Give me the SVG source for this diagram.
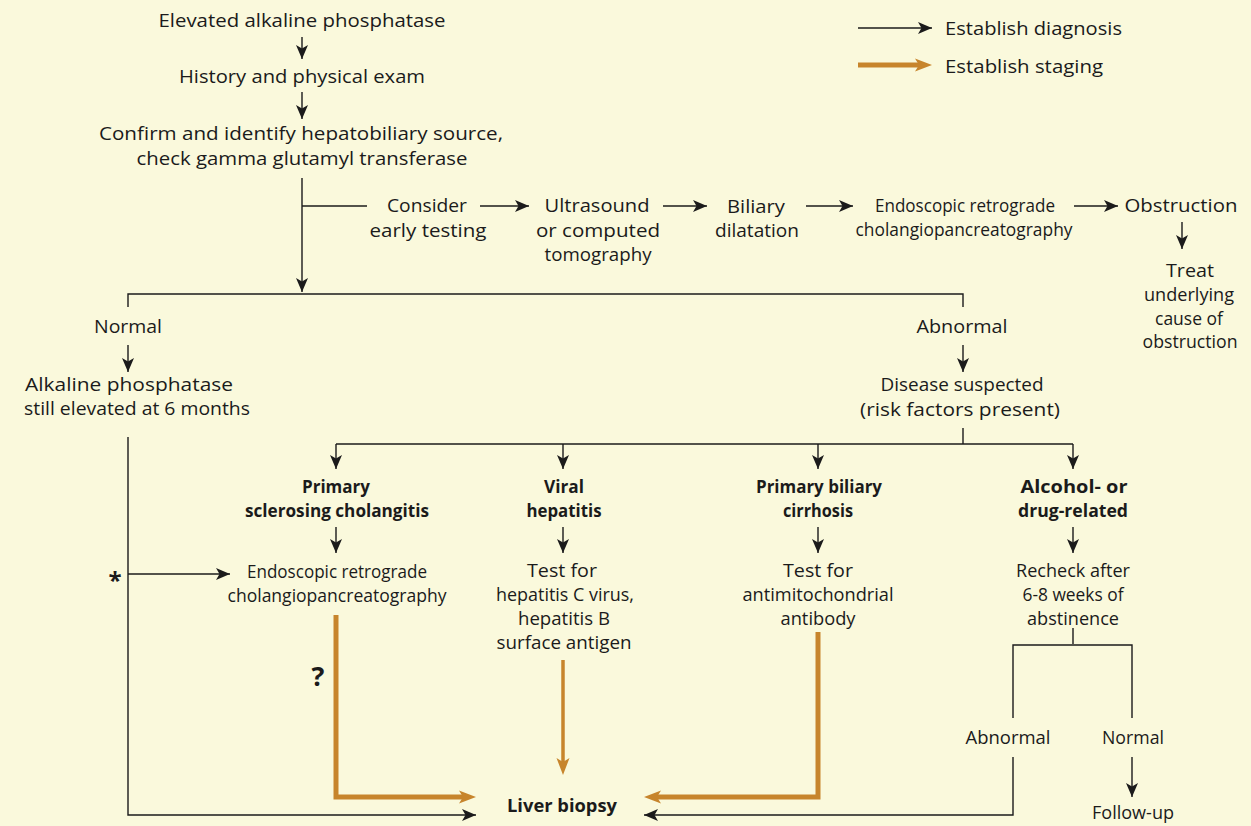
<svg xmlns="http://www.w3.org/2000/svg" width="1251" height="826" viewBox="0 0 1251 826">
<defs>
<style>
text{font-family:"Open Sans","Liberation Sans",sans-serif;font-size:18px;fill:#1b1b1b;text-anchor:middle}
.b{font-weight:bold}
.l{text-anchor:start}
.k{fill:none;stroke:#1b1b1b;stroke-width:1.4}
.o{fill:none;stroke:#c7852c;stroke-width:5}
</style>
<marker id="ah" markerUnits="userSpaceOnUse" markerWidth="15" markerHeight="13" refX="14" refY="6" orient="auto" overflow="visible">
<path d="M0,0 L14,6 L0,12 L3.5,6 Z" fill="#1b1b1b"/>
</marker>
<marker id="oh" markerUnits="userSpaceOnUse" markerWidth="18" markerHeight="14" refX="8" refY="6.5" orient="auto" overflow="visible">
<path d="M0,0 L17,6.5 L0,13 L4,6.5 Z" fill="#c7852c"/>
</marker>
</defs>
<rect width="1251" height="826" fill="#faf9dc"/>

<g id="connectors">
<line class="k" x1="302" y1="37" x2="302" y2="59" marker-end="url(#ah)"/>
<line class="k" x1="302" y1="92" x2="302" y2="119" marker-end="url(#ah)"/>
<line class="k" x1="302" y1="178" x2="302" y2="292" marker-end="url(#ah)"/>
<line class="k" x1="302" y1="206" x2="367" y2="206"/>
<line class="k" x1="480" y1="206" x2="529" y2="206" marker-end="url(#ah)"/>
<line class="k" x1="663" y1="206" x2="707" y2="206" marker-end="url(#ah)"/>
<line class="k" x1="806" y1="206" x2="853" y2="206" marker-end="url(#ah)"/>
<line class="k" x1="1074" y1="206" x2="1118" y2="206" marker-end="url(#ah)"/>
<line class="k" x1="1182" y1="222" x2="1182" y2="249" marker-end="url(#ah)"/>
<polyline class="k" points="128,307 128,294 963,294 963,307"/>
<line class="k" x1="128" y1="345" x2="128" y2="372" marker-end="url(#ah)"/>
<line class="k" x1="963" y1="345" x2="963" y2="372" marker-end="url(#ah)"/>
<line class="k" x1="963" y1="428" x2="963" y2="444"/>
<line class="k" x1="336" y1="444" x2="1073" y2="444"/>
<line class="k" x1="336" y1="444" x2="336" y2="469" marker-end="url(#ah)"/>
<line class="k" x1="563" y1="444" x2="563" y2="469" marker-end="url(#ah)"/>
<line class="k" x1="818" y1="444" x2="818" y2="469" marker-end="url(#ah)"/>
<line class="k" x1="1073" y1="444" x2="1073" y2="469" marker-end="url(#ah)"/>
<line class="k" x1="336" y1="527" x2="336" y2="553" marker-end="url(#ah)"/>
<line class="k" x1="563" y1="527" x2="563" y2="553" marker-end="url(#ah)"/>
<line class="k" x1="818" y1="527" x2="818" y2="553" marker-end="url(#ah)"/>
<line class="k" x1="1073" y1="527" x2="1073" y2="553" marker-end="url(#ah)"/>
<polyline class="k" points="128,437 128,815 476,815" marker-end="url(#ah)"/>
<line class="k" x1="128" y1="574" x2="230" y2="574" marker-end="url(#ah)"/>
<line class="k" x1="1073" y1="628" x2="1073" y2="644"/>
<polyline class="k" points="1013,718 1013,645 1132,645 1132,718"/>
<polyline class="k" points="1013,757 1013,815 644,815" marker-end="url(#ah)"/>
<line class="k" x1="1132" y1="757" x2="1132" y2="797" marker-end="url(#ah)"/>
<polyline class="o" points="336,615 336,797 467,797" marker-end="url(#oh)"/>
<line class="o" x1="563" y1="660" x2="563" y2="766" style="stroke-width:3.5" marker-end="url(#oh)"/>
<polyline class="o" points="818,632 818,797 653,797" marker-end="url(#oh)"/>
</g>

<g id="legend">
<line class="k" x1="858" y1="28" x2="932" y2="28" marker-end="url(#ah)"/>
<line class="o" x1="858" y1="65" x2="923" y2="65" marker-end="url(#oh)"/>
<text class="l" x="945" y="35" textLength="177" lengthAdjust="spacingAndGlyphs">Establish diagnosis</text>
<text class="l" x="945" y="73" textLength="158" lengthAdjust="spacingAndGlyphs">Establish staging</text>
</g>

<g id="n-elevated"><text x="302" y="27" textLength="287" lengthAdjust="spacingAndGlyphs">Elevated alkaline phosphatase</text></g>
<g id="n-history"><text x="302" y="83" textLength="246" lengthAdjust="spacingAndGlyphs">History and physical exam</text></g>
<g id="n-confirm">
<text x="301" y="140" textLength="404" lengthAdjust="spacingAndGlyphs">Confirm and identify hepatobiliary source,</text>
<text x="302" y="165" textLength="331" lengthAdjust="spacingAndGlyphs">check gamma glutamyl transferase</text>
</g>
<g id="n-consider">
<text x="427" y="212" textLength="80" lengthAdjust="spacingAndGlyphs">Consider</text>
<text x="428" y="237" textLength="117" lengthAdjust="spacingAndGlyphs">early testing</text>
</g>
<g id="n-ultrasound">
<text x="597" y="212" textLength="105" lengthAdjust="spacingAndGlyphs">Ultrasound</text>
<text x="598" y="237" textLength="124" lengthAdjust="spacingAndGlyphs">or computed</text>
<text x="598" y="261" textLength="107" lengthAdjust="spacingAndGlyphs">tomography</text>
</g>
<g id="n-biliary">
<text x="756" y="213" textLength="58" lengthAdjust="spacingAndGlyphs">Biliary</text>
<text x="757" y="237" textLength="84" lengthAdjust="spacingAndGlyphs">dilatation</text>
</g>
<g id="n-ercp-top">
<text x="965" y="212" textLength="180" lengthAdjust="spacingAndGlyphs">Endoscopic retrograde</text>
<text x="964" y="236" textLength="217" lengthAdjust="spacingAndGlyphs">cholangiopancreatography</text>
</g>
<g id="n-obstruction"><text x="1181" y="212" textLength="113" lengthAdjust="spacingAndGlyphs">Obstruction</text></g>
<g id="n-treat">
<text x="1190" y="277" textLength="48" lengthAdjust="spacingAndGlyphs">Treat</text>
<text x="1189" y="301" textLength="90" lengthAdjust="spacingAndGlyphs">underlying</text>
<text x="1189" y="325" textLength="68" lengthAdjust="spacingAndGlyphs">cause of</text>
<text x="1190" y="348" textLength="95" lengthAdjust="spacingAndGlyphs">obstruction</text>
</g>
<g id="n-normal"><text x="128" y="333" textLength="68" lengthAdjust="spacingAndGlyphs">Normal</text></g>
<g id="n-still">
<text x="129" y="391" textLength="208" lengthAdjust="spacingAndGlyphs">Alkaline phosphatase</text>
<text x="137" y="415" textLength="226" lengthAdjust="spacingAndGlyphs">still elevated at 6 months</text>
</g>
<g id="n-abnormal"><text x="962" y="333" textLength="91" lengthAdjust="spacingAndGlyphs">Abnormal</text></g>
<g id="n-disease">
<text x="962" y="391" textLength="163" lengthAdjust="spacingAndGlyphs">Disease suspected</text>
<text x="960" y="416" textLength="200" lengthAdjust="spacingAndGlyphs">(risk factors present)</text>
</g>
<g id="n-psc">
<text class="b" x="336" y="493" textLength="68" lengthAdjust="spacingAndGlyphs">Primary</text>
<text class="b" x="337" y="517" textLength="184" lengthAdjust="spacingAndGlyphs">sclerosing cholangitis</text>
</g>
<g id="n-viral">
<text class="b" x="564" y="493" textLength="40" lengthAdjust="spacingAndGlyphs">Viral</text>
<text class="b" x="564" y="517" textLength="75" lengthAdjust="spacingAndGlyphs">hepatitis</text>
</g>
<g id="n-pbc">
<text class="b" x="819" y="493" textLength="126" lengthAdjust="spacingAndGlyphs">Primary biliary</text>
<text class="b" x="818" y="517" textLength="70" lengthAdjust="spacingAndGlyphs">cirrhosis</text>
</g>
<g id="n-alcohol">
<text class="b" x="1074" y="493" textLength="107" lengthAdjust="spacingAndGlyphs">Alcohol- or</text>
<text class="b" x="1073" y="517" textLength="110" lengthAdjust="spacingAndGlyphs">drug-related</text>
</g>
<g id="n-ercp">
<text x="337" y="578" textLength="180" lengthAdjust="spacingAndGlyphs">Endoscopic retrograde</text>
<text x="337" y="602" textLength="219" lengthAdjust="spacingAndGlyphs">cholangiopancreatography</text>
</g>
<g id="n-testhep">
<text x="562" y="577" textLength="70" lengthAdjust="spacingAndGlyphs">Test for</text>
<text x="565" y="601" textLength="138" lengthAdjust="spacingAndGlyphs">hepatitis C virus,</text>
<text x="564" y="625" textLength="92" lengthAdjust="spacingAndGlyphs">hepatitis B</text>
<text x="564" y="649" textLength="135" lengthAdjust="spacingAndGlyphs">surface antigen</text>
</g>
<g id="n-testama">
<text x="818" y="577" textLength="70" lengthAdjust="spacingAndGlyphs">Test for</text>
<text x="818" y="601" textLength="151" lengthAdjust="spacingAndGlyphs">antimitochondrial</text>
<text x="818" y="625" textLength="75" lengthAdjust="spacingAndGlyphs">antibody</text>
</g>
<g id="n-recheck">
<text x="1073" y="577" textLength="114" lengthAdjust="spacingAndGlyphs">Recheck after</text>
<text x="1073" y="601" textLength="101" lengthAdjust="spacingAndGlyphs">6-8 weeks of</text>
<text x="1073" y="625" textLength="92" lengthAdjust="spacingAndGlyphs">abstinence</text>
</g>
<g id="n-abnormal2"><text x="1008" y="744" textLength="85" lengthAdjust="spacingAndGlyphs">Abnormal</text></g>
<g id="n-normal2"><text x="1133" y="744" textLength="62" lengthAdjust="spacingAndGlyphs">Normal</text></g>
<g id="n-followup"><text x="1133" y="819" textLength="82" lengthAdjust="spacingAndGlyphs">Follow-up</text></g>
<g id="n-biopsy"><text class="b" x="562" y="812" textLength="110" lengthAdjust="spacingAndGlyphs">Liver biopsy</text></g>
<g id="n-star"><text class="b" x="115" y="589" style="font-size:24px">*</text></g>
<g id="n-question"><text class="b" x="318" y="686" style="font-size:27px">?</text></g>
</svg>
